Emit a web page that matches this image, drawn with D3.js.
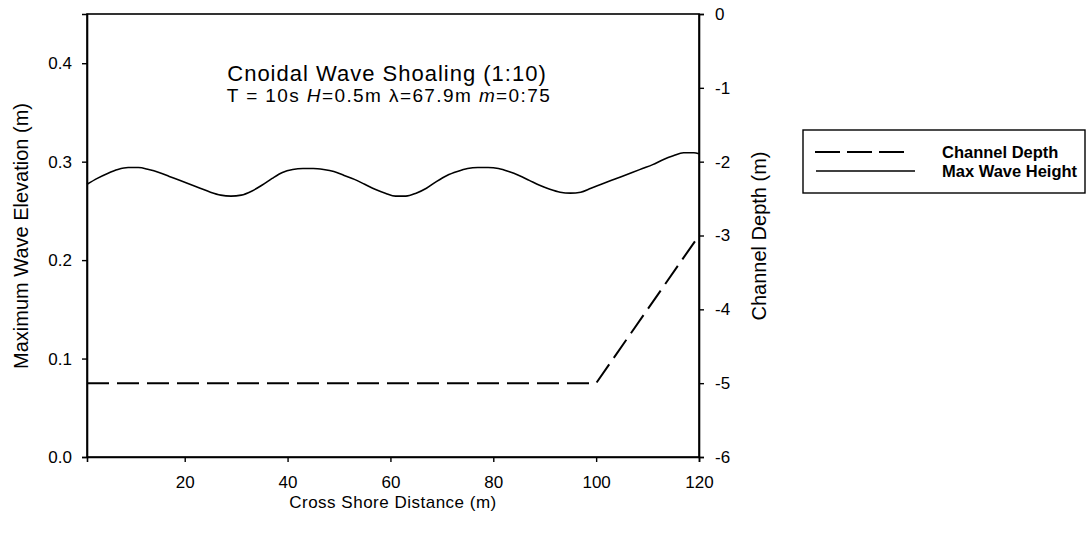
<!DOCTYPE html>
<html>
<head>
<meta charset="utf-8">
<script src="https://cdn.jsdelivr.net/npm/d3@7"></script>
<style>
  html, body { margin: 0; padding: 0; background: #fff; }
  svg { display: block; font-family: "Liberation Sans", Arial, sans-serif; }
</style>
</head>
<body>
<svg id="chart" width="1091" height="537"></svg>
<script>
// Cross-shore stations (m) and maximum wave elevation (m)
const waveDistance = [1, 3, 5, 7, 9, 11, 13, 15, 17, 19, 21, 23, 25, 27, 29, 31, 33, 35, 37, 39,
  41, 43, 45, 47, 49, 51, 53, 55, 57, 59, 61, 63, 65, 67, 69, 71, 73, 75, 77, 79,
  81, 83, 85, 87, 89, 91, 93, 95, 97, 99, 101, 103, 105, 107, 109, 111, 113, 115, 117, 119, 120];
const waveHeight = [0.277, 0.283, 0.288, 0.292, 0.294, 0.294, 0.292, 0.289, 0.285, 0.281,
  0.277, 0.273, 0.269, 0.266, 0.265, 0.266, 0.270, 0.276, 0.283, 0.289,
  0.292, 0.293, 0.293, 0.292, 0.290, 0.286, 0.282, 0.277, 0.272, 0.268,
  0.265, 0.265, 0.268, 0.273, 0.280, 0.286, 0.290, 0.293, 0.294, 0.294,
  0.293, 0.290, 0.286, 0.281, 0.276, 0.272, 0.269, 0.268, 0.269, 0.273,
  0.277, 0.281, 0.285, 0.289, 0.293, 0.297, 0.302, 0.306, 0.309, 0.309, 0.308];

// Channel bed profile: flat section then a 1:10 slope
const depthDistance = [1, 100, 120];
const channelDepth = [-5, -5, -3];

const xTicks = [20, 40, 60, 80, 100, 120];
const leftTicks = [0.0, 0.1, 0.2, 0.3, 0.4];
const rightTicks = [0, -1, -2, -3, -4, -5, -6];

const titleText = "Cnoidal Wave Shoaling (1:10)";
const xLabel = "Cross Shore Distance (m)";
const yLeftLabel = "Maximum Wave Elevation (m)";
const yRightLabel = "Channel Depth (m)";
const legendLabels = ["Channel Depth", "Max Wave Height"];

const svg = d3.select("#chart");
const plot = { left: 87, right: 699, top: 14, bottom: 457 };

const x = d3.scaleLinear().domain([1, 120]).range([plot.left, plot.right]);
const yL = d3.scaleLinear().domain([0, 0.45]).range([plot.bottom, plot.top]);
const yR = d3.scaleLinear().domain([-6, 0]).range([plot.bottom, plot.top]);

// frame
svg.append("rect")
  .attr("x", plot.left).attr("y", plot.top)
  .attr("width", plot.right - plot.left).attr("height", plot.bottom - plot.top)
  .attr("fill", "none").attr("stroke", "#000").attr("stroke-width", 1.6);

function styleAxis(g) {
  g.select(".domain").attr("stroke", "#000").attr("stroke-width", 1.6);
  g.selectAll(".tick line").attr("stroke", "#000").attr("stroke-width", 1.4);
  g.selectAll(".tick text").attr("fill", "#000").style("font-size", "17px")
    .style("font-family", "'Liberation Sans', Arial, sans-serif");
}

svg.append("g")
  .attr("transform", `translate(0,${plot.bottom})`)
  .call(d3.axisBottom(x).tickValues(xTicks).tickSize(5).tickPadding(14).tickFormat(d3.format("d")))
  .call(styleAxis);

svg.append("g")
  .attr("transform", `translate(${plot.left},0)`)
  .call(d3.axisLeft(yL).tickValues(leftTicks).tickSize(5).tickPadding(10).tickFormat(d3.format(".1f")))
  .call(styleAxis);

svg.append("g")
  .attr("transform", `translate(${plot.right},0)`)
  .call(d3.axisRight(yR).tickValues(rightTicks).tickSize(5).tickPadding(11)
    .tickFormat(d => String(d).replace("\u2212", "-")))
  .call(styleAxis);

// channel depth (dashed)
const depthLine = d3.line().x(d => x(d[0])).y(d => yR(d[1]));
svg.append("path")
  .datum(depthDistance.map((d, i) => [d, channelDepth[i]]))
  .attr("d", depthLine)
  .attr("fill", "none").attr("stroke", "#000").attr("stroke-width", 2)
  .attr("stroke-dasharray", "22,8");

// maximum wave height (solid)
const waveLine = d3.line().x(d => x(d[0])).y(d => yL(d[1])).curve(d3.curveMonotoneX);
svg.append("path")
  .datum(waveDistance.map((d, i) => [d, waveHeight[i]]))
  .attr("d", waveLine)
  .attr("fill", "none").attr("stroke", "#000").attr("stroke-width", 1.6);

// titles
svg.append("text").attr("x", 387).attr("y", 81).attr("text-anchor", "middle")
  .style("font-size", "22px").style("letter-spacing", "1px").text(titleText);

const sub = svg.append("text").attr("x", 389).attr("y", 102).attr("text-anchor", "middle")
  .style("font-size", "19px").style("letter-spacing", "1.4px");
sub.append("tspan").text("T = 10s ");
sub.append("tspan").style("font-style", "italic").text("H");
sub.append("tspan").text("=0.5m λ=67.9m ");
sub.append("tspan").style("font-style", "italic").text("m");
sub.append("tspan").text("=0:75");

// axis titles
svg.append("text").attr("x", (plot.left + plot.right) / 2).attr("y", 508)
  .attr("text-anchor", "middle").style("font-size", "17px").style("letter-spacing", "0.5px")
  .text(xLabel);

svg.append("text")
  .attr("transform", `translate(28,236) rotate(-90)`)
  .attr("text-anchor", "middle").style("font-size", "20px").text(yLeftLabel);

svg.append("text")
  .attr("transform", `translate(766,236) rotate(-90)`)
  .attr("text-anchor", "middle").style("font-size", "20px").text(yRightLabel);

// legend
const lg = svg.append("g");
lg.append("rect").attr("x", 803).attr("y", 130).attr("width", 282).attr("height", 63)
  .attr("fill", "none").attr("stroke", "#000").attr("stroke-width", 1.4);
lg.append("line").attr("x1", 815).attr("x2", 906).attr("y1", 152).attr("y2", 152)
  .attr("stroke", "#000").attr("stroke-width", 1.8).attr("stroke-dasharray", "25,7");
lg.append("line").attr("x1", 816).attr("x2", 915).attr("y1", 171).attr("y2", 171)
  .attr("stroke", "#000").attr("stroke-width", 1.4);
lg.selectAll("text.leg").data(legendLabels).enter().append("text")
  .attr("class", "leg")
  .attr("x", 942).attr("y", (d, i) => 158 + i * 19)
  .style("font-size", "16.5px").style("font-weight", "bold").text(d => d);
</script>
</body>
</html>
